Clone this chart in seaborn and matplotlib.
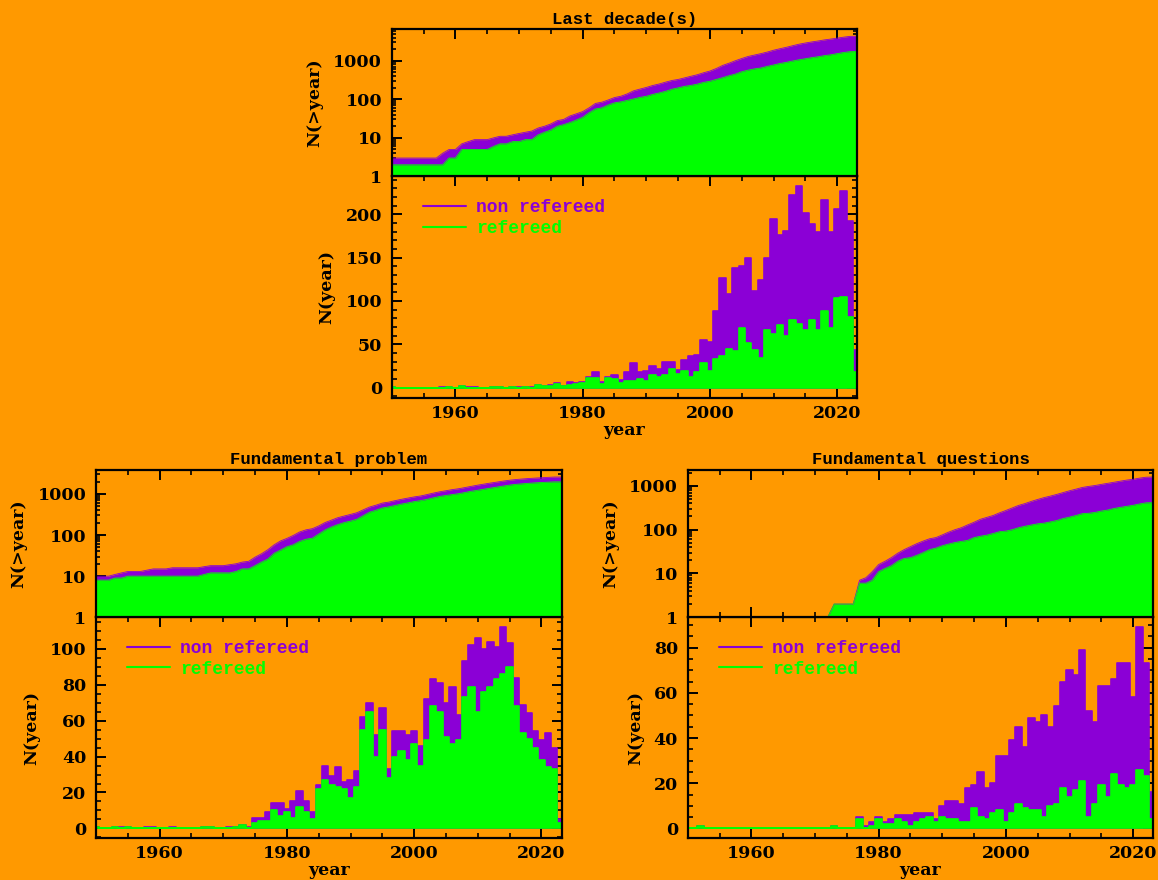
import numpy as np
import pandas as pd
import matplotlib
matplotlib.use("Agg")
import matplotlib.pyplot as plt
import matplotlib.ticker as mticker
from matplotlib.lines import Line2D
import seaborn as sns

# ---------------- data ----------------
years = list(range(1950, 2024))

# Last decade(s)
ld_pre_total = 2
ld_pre_ref = 1
ld_total = [1, 0, 0, 0, 0, 0, 0, 0, 1, 1,
            0, 2, 1, 1, 0, 0, 1, 1, 0, 1,
            1, 1, 1, 3, 2, 3, 5, 2, 7, 5,
            6, 12, 18, 6, 12, 15, 9, 18, 28, 18,
            19, 25, 21, 29, 29, 20, 32, 36, 38, 55,
            53, 88, 127, 108, 138, 140, 150, 112, 124, 150,
            194, 176, 181, 222, 232, 201, 189, 180, 216, 180,
            206, 227, 192, 43]
ld_ref = [1, 0, 0, 0, 0, 0, 0, 0, 0, 1,
          0, 2, 0, 0, 0, 0, 1, 1, 0, 1,
          0, 1, 0, 3, 2, 2, 4, 2, 3, 4,
          5, 11, 11, 4, 11, 10, 5, 8, 8, 10,
          8, 14, 12, 15, 21, 16, 19, 12, 18, 28,
          19, 33, 37, 45, 42, 69, 51, 43, 34, 66,
          62, 72, 60, 78, 73, 66, 78, 67, 88, 69,
          103, 105, 82, 18]

# Fundamental problem
fp_pre_total = 9
fp_pre_ref = 7
fp_total = [1, 0, 0, 1, 1, 1, 0, 0, 1, 1,
            0, 0, 1, 0, 0, 0, 0, 1, 1, 0,
            0, 1, 1, 2, 1, 6, 6, 9, 14, 14,
            11, 15, 21, 15, 9, 24, 35, 29, 34, 26,
            27, 32, 62, 70, 52, 67, 33, 54, 54, 52,
            54, 46, 72, 83, 81, 70, 79, 63, 93, 102,
            106, 100, 104, 101, 112, 103, 84, 69, 64, 54,
            49, 53, 45, 5]
fp_ref = [1, 0, 0, 1, 0, 1, 0, 0, 0, 0,
          0, 0, 0, 0, 0, 0, 0, 1, 1, 0,
          0, 0, 1, 2, 0, 3, 4, 4, 10, 7,
          9, 6, 12, 9, 5, 22, 27, 24, 23, 22,
          17, 23, 55, 65, 40, 55, 28, 40, 43, 38,
          47, 35, 49, 68, 65, 51, 47, 49, 73, 79,
          65, 76, 79, 83, 86, 90, 68, 53, 50, 45,
          38, 34, 33, 3]

# Fundamental questions
fq_pre_total = 0
fq_pre_ref = 0
fq_total = [0, 0, 1, 0, 0, 0, 0, 0, 0, 0,
            0, 0, 0, 0, 0, 0, 0, 0, 0, 0,
            0, 0, 0, 1, 0, 0, 0, 5, 1, 3,
            5, 3, 4, 6, 6, 6, 7, 7, 7, 4,
            10, 12, 12, 11, 18, 19, 25, 18, 20, 32,
            32, 39, 45, 36, 49, 47, 50, 45, 54, 65,
            70, 68, 79, 52, 47, 63, 63, 66, 73, 73,
            58, 89, 73, 16]
fq_ref = [0, 0, 1, 0, 0, 0, 0, 0, 0, 0,
          0, 0, 0, 0, 0, 0, 0, 0, 0, 0,
          0, 0, 0, 1, 0, 0, 0, 4, 0, 1,
          4, 2, 2, 4, 3, 1, 3, 4, 5, 3,
          5, 4, 4, 3, 3, 9, 5, 4, 7, 8,
          3, 7, 11, 9, 8, 8, 5, 10, 11, 18,
          14, 17, 21, 5, 11, 19, 14, 24, 19, 18,
          19, 26, 23, 4]

titles = ["Last decade(s)", "Fundamental problem", "Fundamental questions"]
legend_labels = ["non refereed", "refereed"]
xtick_major = [1960, 1980, 2000, 2020]

# ---------------- style ----------------
ORANGE = "#FF9900"
PURPLE = "#8B00D6"
GREEN = "#00FF00"

sns.set_theme(style="ticks")
plt.rcParams.update({
    "figure.facecolor": ORANGE,
    "axes.facecolor": ORANGE,
    "savefig.facecolor": ORANGE,
    "axes.edgecolor": "black",
    "axes.linewidth": 1.6,
    "axes.grid": False,
    "xtick.direction": "in",
    "ytick.direction": "in",
    "xtick.top": True,
    "ytick.right": True,
    "xtick.color": "black",
    "ytick.color": "black",
    "xtick.major.size": 7,
    "ytick.major.size": 7,
    "xtick.minor.size": 3.5,
    "ytick.minor.size": 3.5,
    "xtick.major.width": 1.4,
    "ytick.major.width": 1.4,
    "xtick.minor.width": 1.2,
    "ytick.minor.width": 1.2,
    "xtick.labelsize": 12.5,
    "ytick.labelsize": 12.5,
    "axes.labelsize": 12.5,
    "font.weight": "bold",
    "axes.labelweight": "bold",
    "text.color": "black",
    "axes.labelcolor": "black",
})
plt.rcParams["font.family"] = ["DejaVu Serif", "DejaVu Sans"]

fig = plt.figure(figsize=(11.58, 8.8), dpi=100)

W = 0.402
HH = 0.2514
HL = 0.1673
panels = [
    (0.3383, 0.5481, titles[0], ld_pre_total, ld_pre_ref, ld_total, ld_ref, 50, 10),
    (0.0829, 0.0472, titles[1], fp_pre_total, fp_pre_ref, fp_total, fp_ref, 20, 5),
    (0.5939, 0.0472, titles[2], fq_pre_total, fq_pre_ref, fq_total, fq_ref, 20, 5),
]

BINRANGE = (years[0] - 0.5, years[-1] + 0.5)
XLIM = (1950.0, 2023.15)

for left, bottom, title, pre_t, pre_r, tot, ref, hmaj, hmin in panels:
    ax_h = fig.add_axes([left, bottom, W, HH])
    ax_l = fig.add_axes([left, bottom + HH, W, HL])

    df = pd.DataFrame({"year": years, "total": tot, "ref": ref})
    df["cum_total"] = (pre_t + df["total"].cumsum()).clip(lower=1).astype(float)
    df["cum_ref"] = (pre_r + df["ref"].cumsum()).clip(lower=1).astype(float)

    # ---- cumulative (log) panel ----
    ax_l.fill_between(df["year"], 1, df["cum_total"], color=PURPLE, linewidth=0)
    ax_l.fill_between(df["year"], 1, df["cum_ref"], color=GREEN, linewidth=0)
    sns.lineplot(data=df, x="year", y="cum_total", color=PURPLE, linewidth=0.6, ax=ax_l)
    sns.lineplot(data=df, x="year", y="cum_ref", color=GREEN, linewidth=0.6, ax=ax_l)
    ax_l.set_yscale("log")
    top = 10 ** (1.05 * np.log10(df["cum_total"].max()))
    ax_l.set_ylim(1, top)
    ax_l.set_xlim(*XLIM)
    ax_l.yaxis.set_major_locator(mticker.FixedLocator([1, 10, 100, 1000]))
    ax_l.yaxis.set_major_formatter(mticker.FuncFormatter(lambda v, p: "%d" % round(v)))
    ax_l.yaxis.set_minor_locator(mticker.LogLocator(base=10, subs=np.arange(2, 10)))
    ax_l.yaxis.set_minor_formatter(mticker.NullFormatter())
    ax_l.xaxis.set_major_locator(mticker.FixedLocator(xtick_major))
    ax_l.xaxis.set_minor_locator(mticker.MultipleLocator(5))
    ax_l.tick_params(axis="x", which="both", labelbottom=False)
    ax_l.tick_params(axis="y", which="major", pad=7)
    ax_l.tick_params(axis="y", which="minor", length=3)
    ax_l.set_xlabel("")
    ax_l.set_ylabel("N(>year)", labelpad=7)
    ax_l.set_title(title, family="Liberation Mono", fontsize=12.5,
                   fontweight="bold", pad=4)
    for s in ax_l.spines.values():
        s.set_visible(True)

    # ---- per-year histogram panel ----
    sns.histplot(data=df, x="year", weights="total", binwidth=1, binrange=BINRANGE,
                 element="step", fill=True, color=PURPLE, edgecolor=PURPLE,
                 alpha=1, linewidth=1.2, ax=ax_h)
    sns.histplot(data=df, x="year", weights="ref", binwidth=1, binrange=BINRANGE,
                 element="step", fill=True, color=GREEN, edgecolor=GREEN,
                 alpha=1, linewidth=1.2, ax=ax_h)
    m = max(tot)
    ax_h.set_ylim(-0.05 * m, 1.05 * m)
    ax_h.set_xlim(*XLIM)
    ax_h.xaxis.set_major_locator(mticker.FixedLocator(xtick_major))
    ax_h.xaxis.set_minor_locator(mticker.MultipleLocator(5))
    ax_h.yaxis.set_major_locator(mticker.MultipleLocator(hmaj))
    ax_h.yaxis.set_minor_locator(mticker.MultipleLocator(hmin))
    ax_h.tick_params(axis="x", which="major", pad=5)
    ax_h.tick_params(axis="y", which="major", pad=7)
    ax_h.set_xlabel("year", labelpad=0)
    ax_h.set_ylabel("N(year)", labelpad=7)
    for s in ax_h.spines.values():
        s.set_visible(True)

    handles = [Line2D([], [], color=PURPLE, linewidth=1.5),
               Line2D([], [], color=GREEN, linewidth=1.5)]
    ax_h.legend(handles, legend_labels, loc="upper left",
                bbox_to_anchor=(0.0667, 0.897), frameon=False,
                prop={"family": "Liberation Mono", "size": 13, "weight": "bold"},
                labelcolor="linecolor", handlelength=2.4,
                handletextpad=0.55, labelspacing=0.2,
                borderpad=0, borderaxespad=0)

fig.savefig("out.png", dpi=100, facecolor=ORANGE)
